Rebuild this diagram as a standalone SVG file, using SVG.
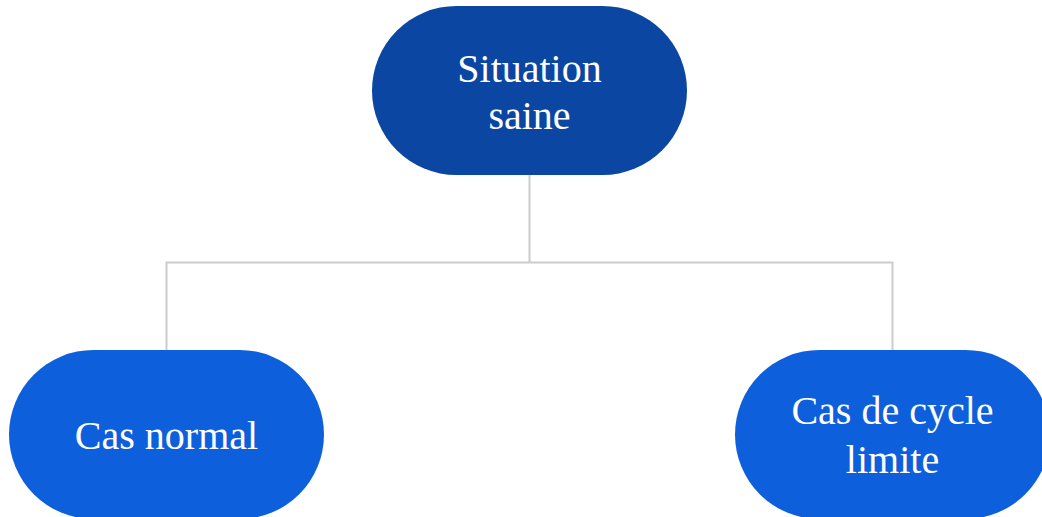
<svg xmlns="http://www.w3.org/2000/svg" width="1042" height="517" viewBox="0 0 1042 517">
<style>
.t{font-family:"Liberation Serif","Times New Roman",serif;font-size:40px;fill:#ffffff;text-anchor:middle}
.c{stroke:#cccccc;stroke-width:2;fill:none}
</style>
<rect width="1042" height="517" fill="#ffffff"/>
<g id="connectors">
<path class="c" d="M529.5 175 V262.5 M166.5 350 V262.5 H892.5 V350"/>
</g>
<g id="node-situation-saine">
<rect x="372" y="6" width="315" height="169" rx="84.5" fill="#0a46a2"/>
<text class="t" x="529.5" y="82">Situation</text>
<text class="t" x="529.5" y="129">saine</text>
</g>
<g id="node-cas-normal">
<rect x="9" y="350" width="315" height="169" rx="84.5" fill="#0d5fdc"/>
<text class="t" x="166.5" y="449">Cas normal</text>
</g>
<g id="node-cas-cycle-limite">
<rect x="735" y="350" width="315" height="169" rx="84.5" fill="#0d5fdc"/>
<text class="t" x="892.5" y="424">Cas de cycle</text>
<text class="t" x="892.5" y="473">limite</text>
</g>
</svg>
